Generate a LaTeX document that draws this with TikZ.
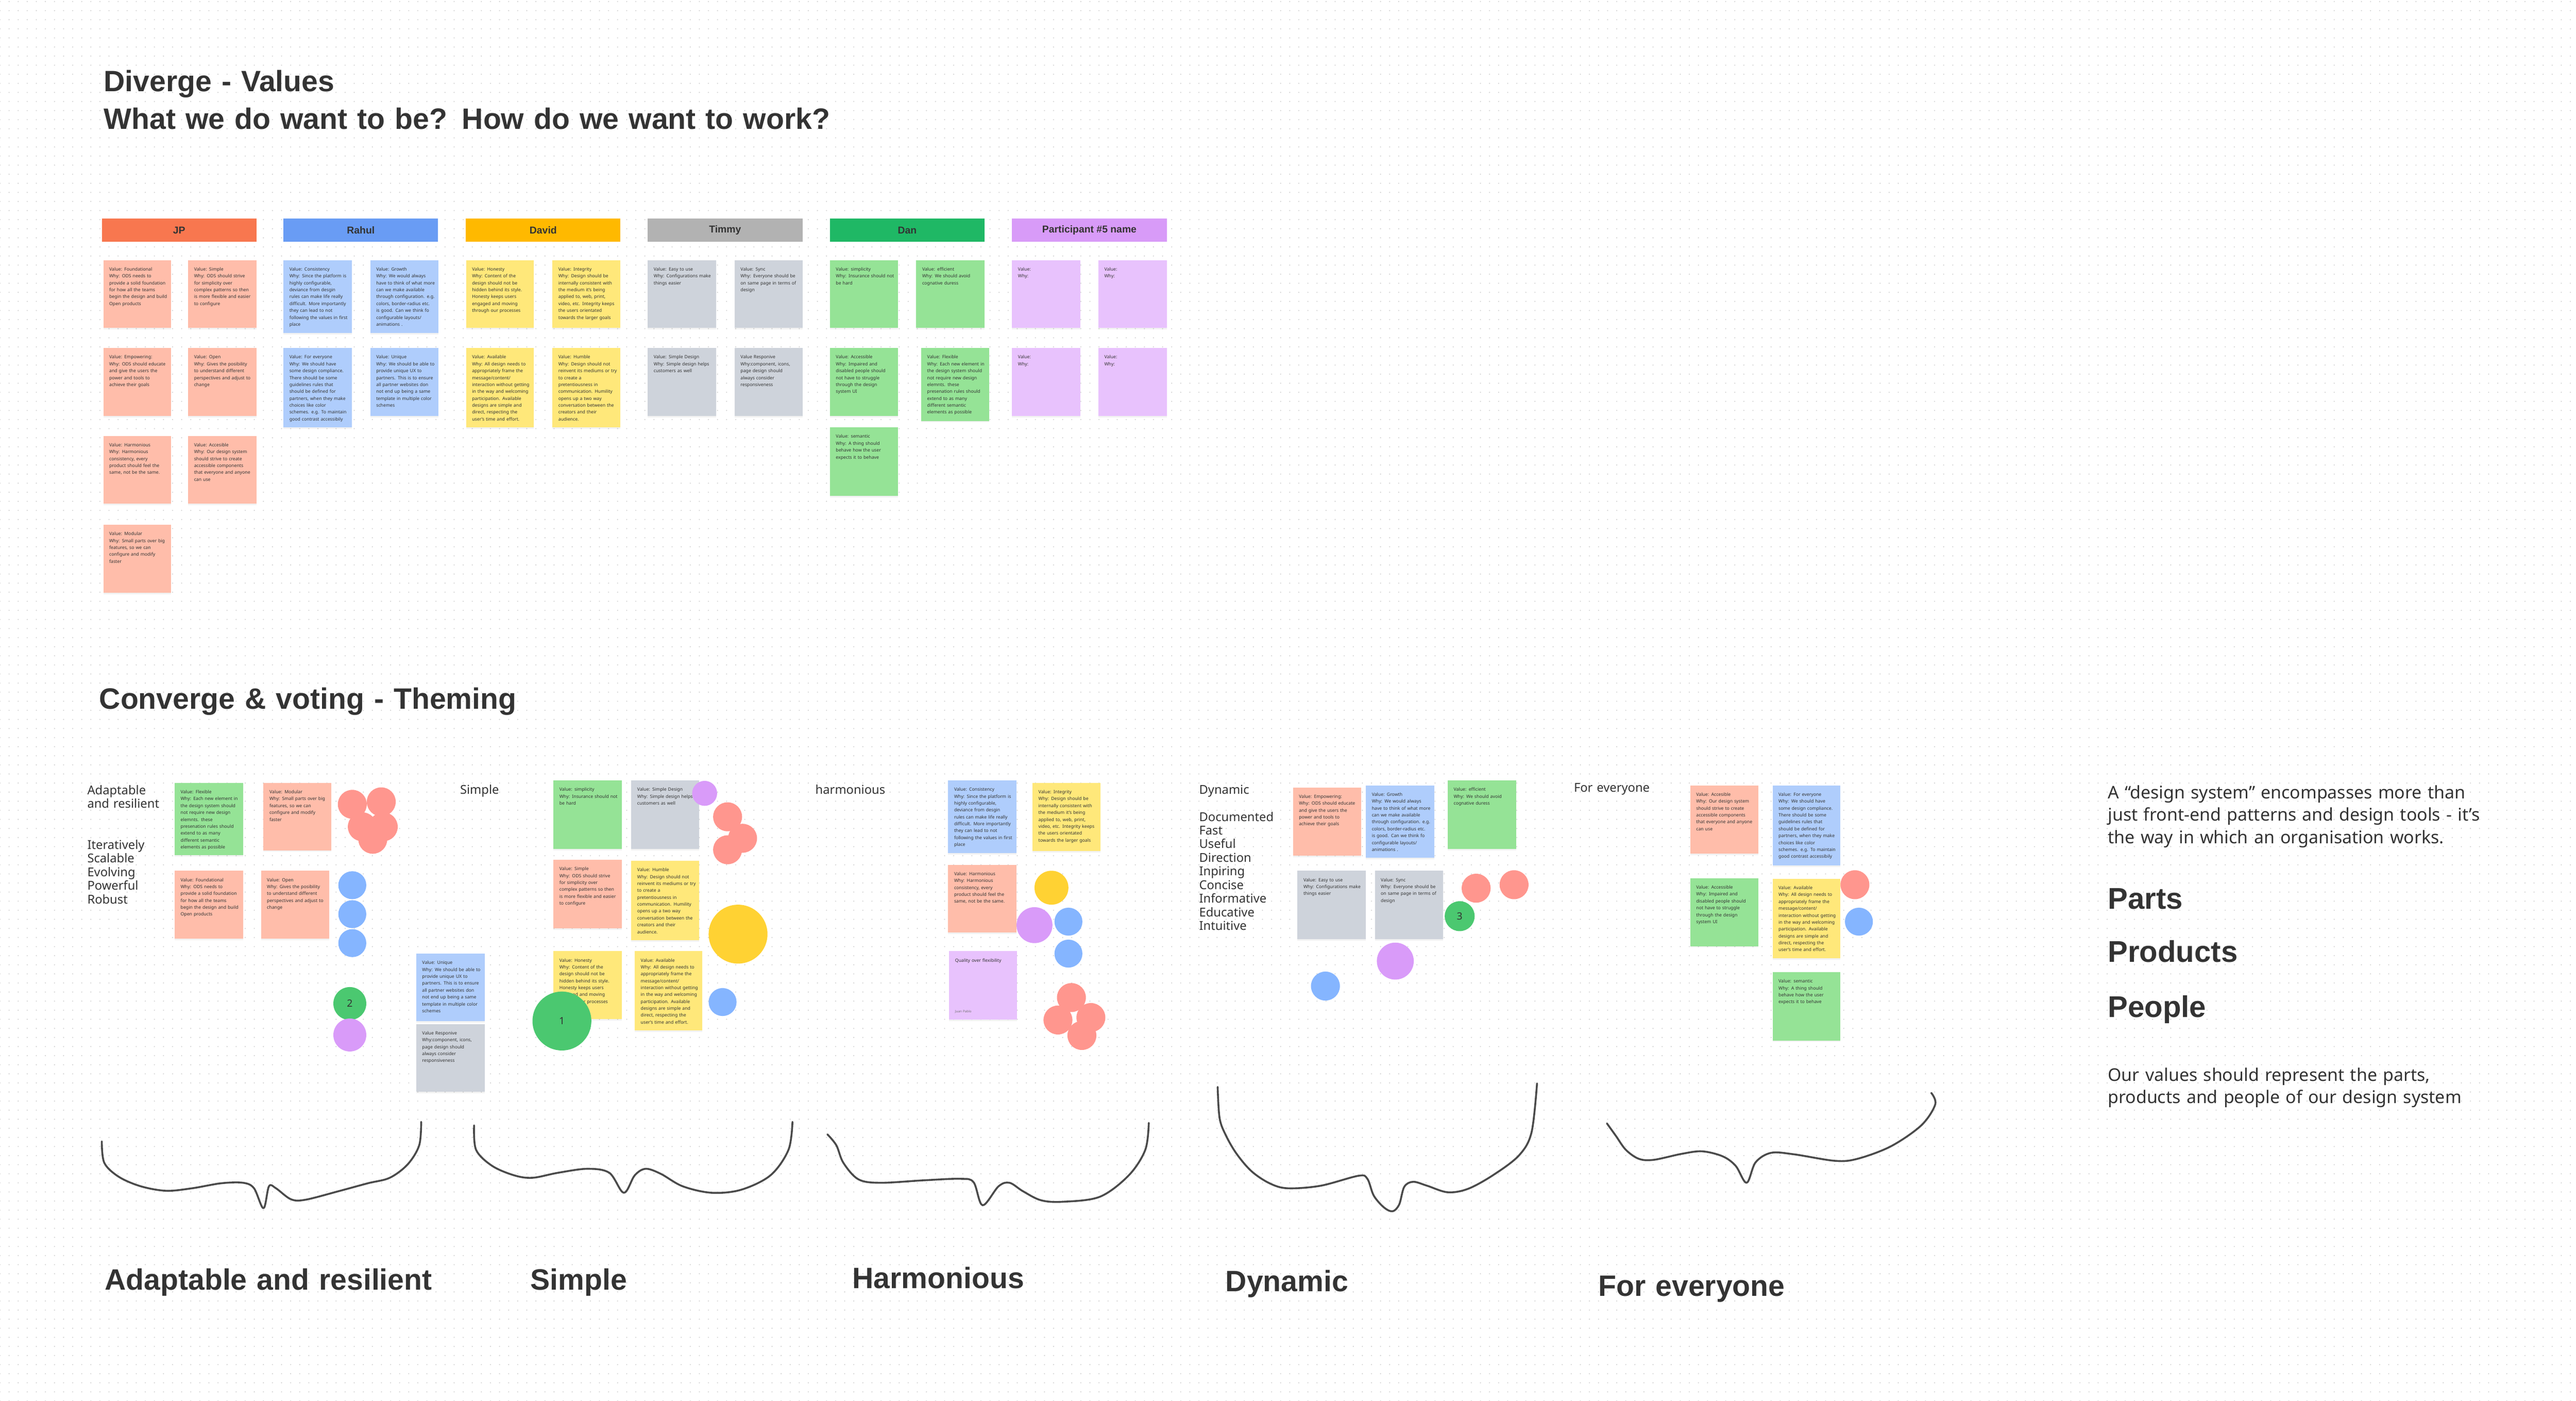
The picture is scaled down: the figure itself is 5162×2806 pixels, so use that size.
\documentclass[tikz,border=0pt]{standalone}
\usepackage{fontspec}
\setmainfont{Noto Sans}
\newfontfamily\strongfont{Liberation Sans}
\usetikzlibrary{patterns.meta,shadows}

\definecolor{ink}{HTML}{333333}
\definecolor{griddot}{HTML}{CFCFCF}
\definecolor{bracecol}{HTML}{4A4A4A}
% headers
\definecolor{jpcol}{HTML}{F8774F}
\definecolor{rahulcol}{HTML}{699CF4}
\definecolor{davidcol}{HTML}{FFB900}
\definecolor{timmycol}{HTML}{B2B2B2}
\definecolor{dancol}{HTML}{1FB865}
\definecolor{partcol}{HTML}{D89BF8}
% sticky notes
\definecolor{pinknote}{HTML}{FFBDAA}
\definecolor{bluenote}{HTML}{AFCDFC}
\definecolor{yellownote}{HTML}{FFE87A}
\definecolor{graynote}{HTML}{CED3DB}
\definecolor{greennote}{HTML}{95E396}
\definecolor{purplenote}{HTML}{E8C2FD}
% voting dots
\definecolor{reddot}{HTML}{FF968E}
\definecolor{bluedot}{HTML}{85B5FF}
\definecolor{yellowdot}{HTML}{FFD233}
\definecolor{greendot}{HTML}{4BC870}
\definecolor{purpledot}{HTML}{D99BF9}

\newcommand\notesize{\fontsize{1.8pt}{2.76pt}\selectfont}
\newcommand\headsize{\strongfont\fontsize{4pt}{4.8pt}\selectfont\bfseries}
\newcommand\bigsize{\strongfont\fontsize{11.8pt}{15.1pt}\selectfont\bfseries}
\newcommand\themesize{\fontsize{4.9pt}{5.46pt}\selectfont}
\newcommand\parasize{\fontsize{7pt}{8.92pt}\selectfont}
\newcommand\pillarsize{\strongfont\fontsize{12pt}{12pt}\selectfont\bfseries}
\newcommand\votesize{\fontsize{4pt}{4pt}\selectfont}

\tikzdeclarepattern{
  name=boarddots,
  type=uncolored,
  bounding box={(-1.82pt,-1.82pt) and (1.82pt,1.82pt)},
  tile size={(3.64pt,3.64pt)},
  code={\fill (0pt,0pt) circle [radius=0.24pt];}
}

\begin{document}
\begin{tikzpicture}[x=0.2pt, y=-0.2pt,
  sticky/.style={drop shadow={shadow xshift=0pt, shadow yshift=-0.6pt, opacity=0.10}},
  notetext/.style={anchor=base west, inner sep=0pt, text width=30pt, align=left, text=ink, font=\notesize},
  header/.style={minimum width=62pt, minimum height=9.2pt, inner sep=0pt, text=ink, font=\headsize},
  plaintext/.style={anchor=base west, inner sep=0pt, text width=300pt, align=left, text=ink},
  vote/.style={circle, inner sep=0pt, text=ink, font=\votesize},
  themebrace/.style={draw=bracecol, line width=0.75pt, line cap=round, line join=round}]
	\useasboundingbox (0,0) rectangle (5162,2806);
	\fill[white] (0,0) rectangle (5162,2806);
	\fill[pattern=boarddots, pattern color=griddot] (0,0) rectangle (5162,2806);
	% titles
	\node[plaintext, font=\bigsize] (divergetitle) at (207,183.4) {Diverge - Values\\What we do want to be? How do we want to work?};
	\node[plaintext, font=\bigsize] (convergetitle) at (198,1420) {Converge \& voting - Theming};

	% participants
	\node[header, fill=jpcol] (jp) at (359,461) {JP};
	\node[header, fill=rahulcol] (rahul) at (723,461) {Rahul};
	\node[header, fill=davidcol] (david) at (1088.5,461) {David};
	\node[header, fill=timmycol] (timmy) at (1453,461) {Timmy};
	\node[header, fill=dancol] (dan) at (1818,461) {Dan};
	\node[header, fill=partcol] (participant) at (2183,461) {Participant \#5 name};

	% JP
	\fill[sticky, pinknote] (207,521) rectangle +(136,136);
	\node[notetext] (jpfoundational) at (218,542.5) {Value: Foundational\\Why: ODS needs to\\provide a solid foundation\\for how all the teams\\begin the design and build\\Open products};
	\fill[sticky, pinknote] (377,521) rectangle +(137,136);
	\node[notetext] (jpsimple) at (388,542.5) {Value: Simple\\Why: ODS should strive\\for simplicity over\\complex patterns so then\\is more flexible and easier\\to configure};
	\fill[sticky, pinknote] (207,697) rectangle +(136,136);
	\node[notetext] (jpempowering) at (218,718.5) {Value: Empowering:\\Why: ODS should educate\\and give the users the\\power and tools to\\achieve their goals};
	\fill[sticky, pinknote] (377,697) rectangle +(137,136);
	\node[notetext] (jpopen) at (388,718.5) {Value: Open\\Why: Gives the posibility\\to understand different\\perspectives and adjust to\\change};
	\fill[sticky, pinknote] (207,873) rectangle +(136,136);
	\node[notetext] (jpharmonious) at (218,894.5) {Value: Harmonious\\Why: Harmonious\\consistency, every\\product should feel the\\same, not be the same.};
	\fill[sticky, pinknote] (377,873) rectangle +(137,136);
	\node[notetext] (jpaccesible) at (388,894.5) {Value: Accesible\\Why: Our design system\\should strive to create\\accessible components\\that everyone and anyone\\can use};
	\fill[sticky, pinknote] (207,1051) rectangle +(136,136);
	\node[notetext] (jpmodular) at (218,1072.5) {Value: Modular\\Why: Small parts over big\\features, so we can\\configure and modify\\faster};

	% Rahul
	\fill[sticky, bluenote] (568,521) rectangle +(137,146);
	\node[notetext] (rahulconsistency) at (579,542.5) {Value: Consistency\\Why: Since the platform is\\highly configurable,\\deviance from desgin\\rules can make life really\\difficult. More importantly\\they can lead to not\\following the values in first\\place};
	\fill[sticky, bluenote] (742,521) rectangle +(137,146);
	\node[notetext] (rahulgrowth) at (753,542.5) {Value: Growth\\Why: We would always\\have to think of what more\\can we make available\\through configuration. e.g.\\colors, border-radius etc.\\is good. Can we think fo\\configurable layouts/\\animations .};
	\fill[sticky, bluenote] (568,697) rectangle +(137,159);
	\node[notetext] (rahuleveryone) at (579,718.5) {Value: For everyone\\Why: We should have\\some design compliance.\\There should be some\\guidelines rules that\\should be defined for\\partners, when they make\\choices like color\\schemes. e.g. To maintain\\good contrast accessibily};
	\fill[sticky, bluenote] (742,697) rectangle +(137,136);
	\node[notetext] (rahulunique) at (753,718.5) {Value: Unique\\Why: We should be able to\\provide unique UX to\\partners. This is to ensure\\all partner websites don\\not end up being a same\\template in multiple color\\schemes};

	% David
	\fill[sticky, yellownote] (934,521) rectangle +(136,136);
	\node[notetext] (davidhonesty) at (945,542.5) {Value: Honesty\\Why: Content of the\\design should not be\\hidden behind its style.\\Honesty keeps users\\engaged and moving\\through our processes};
	\fill[sticky, yellownote] (1107,521) rectangle +(136,136);
	\node[notetext] (davidintegrity) at (1118,542.5) {Value: Integrity\\Why: Design should be\\internally consistent with\\the medium it’s being\\applied to, web, print,\\video, etc. Integrity keeps\\the users orientated\\towards the larger goals};
	\fill[sticky, yellownote] (934,697) rectangle +(136,159);
	\node[notetext] (davidavailable) at (945,718.5) {Value: Available\\Why: All design needs to\\appropriately frame the\\message/content/\\interaction without getting\\in the way and welcoming\\participation. Available\\designs are simple and\\direct, respecting the\\user’s time and effort.};
	\fill[sticky, yellownote] (1107,697) rectangle +(136,159);
	\node[notetext] (davidhumble) at (1118,718.5) {Value: Humble\\Why: Design should not\\reinvent its mediums or try\\to create a\\pretentiousness in\\communication. Humility\\opens up a two way\\conversation between the\\creators and their\\audience.};

	% Timmy
	\fill[sticky, graynote] (1298,521) rectangle +(137,136);
	\node[notetext] (timmyeasy) at (1309,542.5) {Value: Easy to use\\Why: Configurations make\\things easier};
	\fill[sticky, graynote] (1472,521) rectangle +(136,136);
	\node[notetext] (timmysync) at (1483,542.5) {Value: Sync\\Why: Everyone should be\\on same page in terms of\\design};
	\fill[sticky, graynote] (1298,697) rectangle +(137,136);
	\node[notetext] (timmysimple) at (1309,718.5) {Value: Simple Design\\Why: Simple design helps\\customers as well};
	\fill[sticky, graynote] (1472,697) rectangle +(136,136);
	\node[notetext] (timmyresponsive) at (1483,718.5) {Value Responive\\Why:component, icons,\\page design should\\always consider\\responsiveness};

	% Dan
	\fill[sticky, greennote] (1663,521) rectangle +(136,136);
	\node[notetext] (dansimplicity) at (1674,542.5) {Value: simplicity\\Why: Insurance should not\\be hard};
	\fill[sticky, greennote] (1836,521) rectangle +(137,136);
	\node[notetext] (danefficient) at (1847,542.5) {Value: efficient\\Why: We should avoid\\cognative duress};
	\fill[sticky, greennote] (1663,697) rectangle +(136,136);
	\node[notetext] (danaccessible) at (1674,718.5) {Value: Accessible\\Why: Impaired and\\disabled people should\\not have to struggle\\through the design\\system UI};
	\fill[sticky, greennote] (1846,697) rectangle +(136,146);
	\node[notetext] (danflexible) at (1857,718.5) {Value: Flexible\\Why: Each new element in\\the design system should\\not require new design\\elemnts. these\\presenation rules should\\extend to as many\\different semantic\\elements as possible};
	\fill[sticky, greennote] (1663,856) rectangle +(136,137);
	\node[notetext] (dansemantic) at (1674,877.5) {Value: semantic\\Why: A thing should\\behave how the user\\expects it to behave};

	% Participant #5
	\fill[sticky, purplenote] (2028,521) rectangle +(137,136);
	\node[notetext] (partone) at (2039,542.5) {Value:\\Why:};
	\fill[sticky, purplenote] (2201,521) rectangle +(137,136);
	\node[notetext] (parttwo) at (2212,542.5) {Value:\\Why:};
	\fill[sticky, purplenote] (2028,697) rectangle +(137,136);
	\node[notetext] (partthree) at (2039,718.5) {Value:\\Why:};
	\fill[sticky, purplenote] (2201,697) rectangle +(137,136);
	\node[notetext] (partfour) at (2212,718.5) {Value:\\Why:};

	% theme labels
	\node[plaintext, font=\themesize] (adaptlabel) at (174,1591.5) {Adaptable\\and resilient};
	\node[plaintext, font=\themesize] (adaptwords) at (174,1700.7) {Iteratively\\Scalable\\Evolving\\Powerful\\Robust};
	\node[plaintext, font=\themesize] (simplelabel) at (921,1590) {Simple};
	\node[plaintext, font=\themesize] (harmlabel) at (1633,1590) {harmonious};
	\node[plaintext, font=\themesize] (dynlabel) at (2402,1590) {Dynamic};
	\node[plaintext, font=\themesize] (dynwords) at (2402,1644.7) {Documented\\Fast\\Useful\\Direction\\Inpiring\\Concise\\Informative\\Educative\\Intuitive};
	\node[plaintext, font=\themesize] (everylabel) at (3153,1586) {For everyone};

	% adaptable and resilient
	\fill[sticky, greennote] (350,1568) rectangle +(137,145);
	\node[notetext] (adflexible) at (361,1589.5) {Value: Flexible\\Why: Each new element in\\the design system should\\not require new design\\elemnts. these\\presenation rules should\\extend to as many\\different semantic\\elements as possible};
	\fill[sticky, pinknote] (528,1568) rectangle +(136,135);
	\node[notetext] (admodular) at (539,1589.5) {Value: Modular\\Why: Small parts over big\\features, so we can\\configure and modify\\faster};
	\fill[sticky, pinknote] (350,1744) rectangle +(137,136);
	\node[notetext] (adfoundational) at (361,1765.5) {Value: Foundational\\Why: ODS needs to\\provide a solid foundation\\for how all the teams\\begin the design and build\\Open products};
	\fill[sticky, pinknote] (523,1744) rectangle +(137,136);
	\node[notetext] (adopen) at (534,1765.5) {Value: Open\\Why: Gives the posibility\\to understand different\\perspectives and adjust to\\change};
	\fill[sticky, bluenote] (834,1910) rectangle +(137,135);
	\node[notetext] (adunique) at (845,1931.5) {Value: Unique\\Why: We should be able to\\provide unique UX to\\partners. This is to ensure\\all partner websites don\\not end up being a same\\template in multiple color\\schemes};
	\fill[sticky, graynote] (834,2051) rectangle +(137,136);
	\node[notetext] (adresponsive) at (845,2072.5) {Value Responive\\Why:component, icons,\\page design should\\always consider\\responsiveness};

	% simple
	\fill[sticky, greennote] (1109,1563) rectangle +(137,137);
	\node[notetext] (sisimplicity) at (1120,1584.5) {Value: simplicity\\Why: Insurance should not\\be hard};
	\fill[sticky, graynote] (1265,1563) rectangle +(136,137);
	\node[notetext] (sisimpledesign) at (1276,1584.5) {Value: Simple Design\\Why: Simple design helps\\customers as well};
	\fill[sticky, pinknote] (1109,1722) rectangle +(137,137);
	\node[notetext] (sisimple) at (1120,1743.5) {Value: Simple\\Why: ODS should strive\\for simplicity over\\complex patterns so then\\is more flexible and easier\\to configure};
	\fill[sticky, yellownote] (1265,1724) rectangle +(136,159);
	\node[notetext] (sihumble) at (1276,1745.5) {Value: Humble\\Why: Design should not\\reinvent its mediums or try\\to create a\\pretentiousness in\\communication. Humility\\opens up a two way\\conversation between the\\creators and their\\audience.};
	\fill[sticky, yellownote] (1109,1905) rectangle +(137,136);
	\node[notetext] (sihonesty) at (1120,1926.5) {Value: Honesty\\Why: Content of the\\design should not be\\hidden behind its style.\\Honesty keeps users\\engaged and moving\\through our processes};
	\fill[sticky, yellownote] (1272,1905) rectangle +(135,159);
	\node[notetext] (siavailable) at (1283,1926.5) {Value: Available\\Why: All design needs to\\appropriately frame the\\message/content/\\interaction without getting\\in the way and welcoming\\participation. Available\\designs are simple and\\direct, respecting the\\user’s time and effort.};

	% harmonious
	\fill[sticky, bluenote] (1900,1563) rectangle +(137,146);
	\node[notetext] (haconsistency) at (1911,1584.5) {Value: Consistency\\Why: Since the platform is\\highly configurable,\\deviance from desgin\\rules can make life really\\difficult. More importantly\\they can lead to not\\following the values in first\\place};
	\fill[sticky, yellownote] (2069,1568) rectangle +(136,137);
	\node[notetext] (haintegrity) at (2080,1589.5) {Value: Integrity\\Why: Design should be\\internally consistent with\\the medium it’s being\\applied to, web, print,\\video, etc. Integrity keeps\\the users orientated\\towards the larger goals};
	\fill[sticky, pinknote] (1900,1732) rectangle +(137,136);
	\node[notetext] (haharmonious) at (1911,1753.5) {Value: Harmonious\\Why: Harmonious\\consistency, every\\product should feel the\\same, not be the same.};
	\fill[sticky, purplenote] (1902,1905) rectangle +(136,137);
	\node[notetext] (haquality) at (1913,1926.5) {Quality over flexibility};
	\node[notetext, font=\fontsize{1.3pt}{1.6pt}\selectfont, text=black!55] (haauthor) at (1913,2028) {Juan Pablo};

	% dynamic
	\fill[sticky, pinknote] (2591,1577) rectangle +(137,137);
	\node[notetext] (dyempowering) at (2602,1598.5) {Value: Empowering:\\Why: ODS should educate\\and give the users the\\power and tools to\\achieve their goals};
	\fill[sticky, bluenote] (2737,1573) rectangle +(137,145);
	\node[notetext] (dygrowth) at (2748,1594.5) {Value: Growth\\Why: We would always\\have to think of what more\\can we make available\\through configuration. e.g.\\colors, border-radius etc.\\is good. Can we think fo\\configurable layouts/\\animations .};
	\fill[sticky, greennote] (2901,1563) rectangle +(137,137);
	\node[notetext] (dyefficient) at (2912,1584.5) {Value: efficient\\Why: We should avoid\\cognative duress};
	\fill[sticky, graynote] (2600,1744) rectangle +(137,137);
	\node[notetext] (dyeasy) at (2611,1765.5) {Value: Easy to use\\Why: Configurations make\\things easier};
	\fill[sticky, graynote] (2755,1744) rectangle +(137,137);
	\node[notetext] (dysync) at (2766,1765.5) {Value: Sync\\Why: Everyone should be\\on same page in terms of\\design};

	% for everyone
	\fill[sticky, pinknote] (3387,1573) rectangle +(137,137);
	\node[notetext] (feaccesible) at (3398,1594.5) {Value: Accesible\\Why: Our design system\\should strive to create\\accessible components\\that everyone and anyone\\can use};
	\fill[sticky, bluenote] (3552,1573) rectangle +(136,160);
	\node[notetext] (feeveryone) at (3563,1594.5) {Value: For everyone\\Why: We should have\\some design compliance.\\There should be some\\guidelines rules that\\should be defined for\\partners, when they make\\choices like color\\schemes. e.g. To maintain\\good contrast accessibily};
	\fill[sticky, greennote] (3387,1759) rectangle +(137,136);
	\node[notetext] (feaccessible) at (3398,1780.5) {Value: Accessible\\Why: Impaired and\\disabled people should\\not have to struggle\\through the design\\system UI};
	\fill[sticky, yellownote] (3552,1760) rectangle +(136,159);
	\node[notetext] (feavailable) at (3563,1781.5) {Value: Available\\Why: All design needs to\\appropriately frame the\\message/content/\\interaction without getting\\in the way and welcoming\\participation. Available\\designs are simple and\\direct, respecting the\\user’s time and effort.};
	\fill[sticky, greennote] (3552,1947) rectangle +(136,137);
	\node[notetext] (fesemantic) at (3563,1968.5) {Value: semantic\\Why: A thing should\\behave how the user\\expects it to behave};

	% votes
	\fill[reddot] (706,1611) circle (29);
	\fill[reddot] (764,1606) circle (29);
	\fill[reddot] (726,1656) circle (29);
	\fill[reddot] (768,1656) circle (29);
	\fill[reddot] (747,1681) circle (29);
	\fill[bluedot] (706,1773) circle (28);
	\fill[bluedot] (706,1831) circle (28);
	\fill[bluedot] (706,1889) circle (28);
	\node[vote, fill=greendot, minimum size=13.2pt] (votetwo) at (701,2010) {2};
	\fill[purpledot] (701,2073) circle (33);

	\fill[purpledot] (1412,1589) circle (25);
	\fill[reddot] (1458,1636) circle (29);
	\fill[reddot] (1488,1679) circle (29);
	\fill[reddot] (1458,1702) circle (29);
	\fill[yellowdot] (1479,1871) circle (59);
	\fill[bluedot] (1448,2007) circle (28);
	\node[vote, fill=greendot, minimum size=23.6pt] (voteone) at (1126,2045) {1};

	\fill[yellowdot] (2107,1778) circle (34);
	\fill[purpledot] (2073,1853) circle (36);
	\fill[bluedot] (2141,1846) circle (28);
	\fill[bluedot] (2141,1910) circle (28);
	\fill[reddot] (2147,1998) circle (29);
	\fill[reddot] (2120,2043) circle (29);
	\fill[reddot] (2186,2038) circle (29);
	\fill[reddot] (2168,2074) circle (29);

	\fill[reddot] (2958,1779) circle (29);
	\fill[reddot] (3034,1772) circle (29);
	\node[vote, fill=greendot, minimum size=12pt] (votethree) at (2925,1835) {3};
	\fill[purpledot] (2796,1925) circle (37);
	\fill[bluedot] (2656,1975) circle (29);

	\fill[reddot] (3717,1772) circle (29);
	\fill[bluedot] (3725,1846) circle (28);

	% braces
	\draw[themebrace] plot[smooth, tension=0.55] coordinates {(204,2286) (209,2329) (238,2357) (282,2376) (333,2385) (385,2380) (443,2370) (487,2369) (509,2380) (528,2420) (539,2376) (553,2380) (583,2402) (612,2403) (678,2386) (737,2370) (781,2359) (817,2332) (840,2294) (844,2247)};
	\draw[themebrace] plot[smooth, tension=0.55] coordinates {(950,2254) (954,2303) (986,2335) (1030,2354) (1067,2359) (1118,2349) (1177,2341) (1221,2349) (1250,2389) (1272,2354) (1294,2341) (1324,2351) (1368,2376) (1426,2389) (1485,2383) (1544,2354) (1580,2303) (1588,2247)};
	\draw[themebrace] plot[smooth, tension=0.55] coordinates {(1658,2272) (1676,2294) (1690,2329) (1720,2362) (1764,2369) (1852,2364) (1925,2361) (1951,2368) (1969,2414) (2001,2376) (2023,2369) (2050,2386) (2086,2404) (2130,2407) (2204,2397) (2262,2354) (2295,2303) (2302,2249)};
	\draw[themebrace] plot[smooth, tension=0.55] coordinates {(2440,2177) (2444,2240) (2457,2275) (2478,2311) (2508,2346) (2544,2370) (2580,2380) (2646,2375) (2722,2355) (2740,2361) (2753,2395) (2774,2419) (2791,2426) (2804,2412) (2814,2377) (2832,2367) (2860,2375) (2901,2388) (2942,2381) (2993,2353) (3044,2314) (3069,2268) (3080,2170)};
	\draw[themebrace] plot[smooth, tension=0.55] coordinates {(3220,2250) (3238,2275) (3258,2303) (3284,2321) (3314,2323) (3370,2311) (3411,2306) (3452,2316) (3478,2335) (3500,2369) (3518,2328) (3549,2309) (3595,2312) (3677,2325) (3722,2321) (3789,2296) (3850,2254) (3878,2212) (3870,2189)};

	% themes
	\node[plaintext, font=\bigsize] (adaptable) at (209,2584) {Adaptable and resilient};
	\node[plaintext, font=\bigsize] (simple) at (1062,2584) {Simple};
	\node[plaintext, font=\bigsize] (harmonious) at (1707,2580) {Harmonious};
	\node[plaintext, font=\bigsize] (dynamic) at (2455,2587) {Dynamic};
	\node[plaintext, font=\bigsize] (everyone) at (3202,2596) {For everyone};

	% design system
	\node[plaintext, font=\parasize] (intro) at (4223,1600) {A “design system” encompasses more than\\just front-end patterns and design tools - it’s\\the way in which an organisation works.};
	\node[plaintext, font=\pillarsize] (parts) at (4223,1821) {Parts};
	\node[plaintext, font=\pillarsize] (products) at (4223,1927) {Products};
	\node[plaintext, font=\pillarsize] (people) at (4223,2037) {People};
	\node[plaintext, font=\parasize] (outro) at (4223,2165) {Our values should represent the parts,\\products and people of our design system};
\end{tikzpicture}
\end{document}
